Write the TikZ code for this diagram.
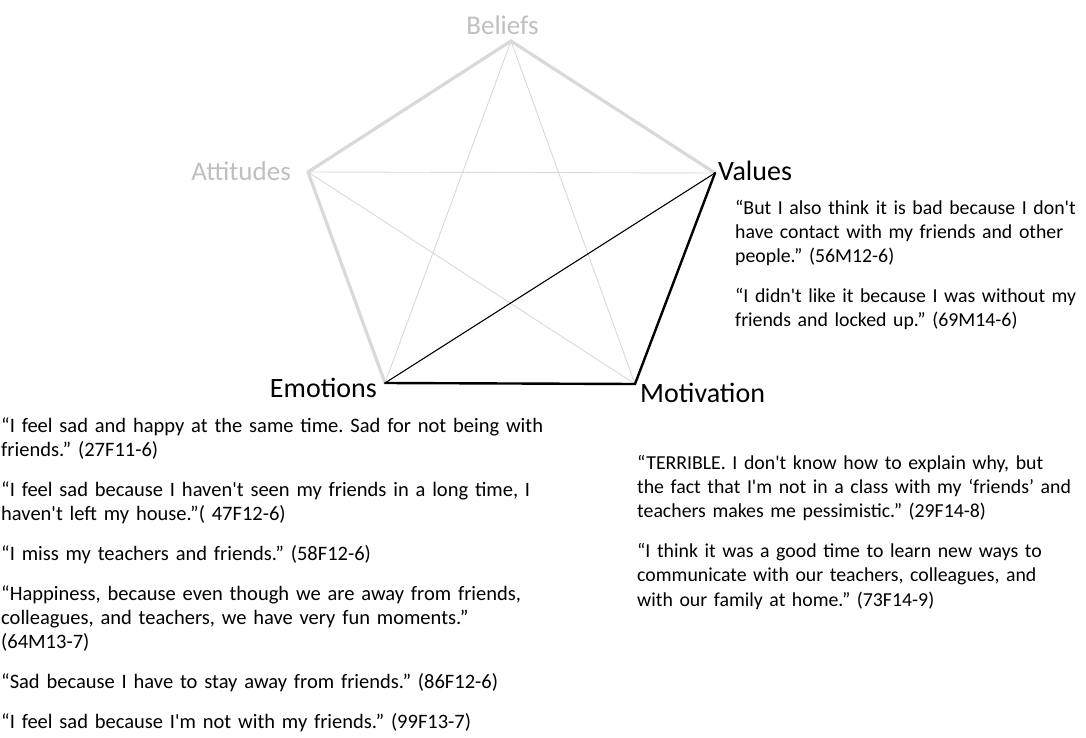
\documentclass[tikz,border=0pt]{standalone}
\usepackage{fontspec}
\setmainfont{Carlito}[Ligatures=TeXOff]
\frenchspacing
\definecolor{edgegray}{HTML}{D9D9D9}
\definecolor{labelgray}{HTML}{BFBFBF}
\tikzset{
  rimgray/.style={draw=edgegray, line width=3.2pt, line cap=round},
  rimblack/.style={draw=black, line width=2.4pt, line cap=round},
  diaggray/.style={draw=edgegray, line width=0.9pt},
  diagblack/.style={draw=black, line width=1.1pt},
  dimlabel/.style={text=labelgray, inner sep=0pt, font=\fontsize{27}{32}\selectfont},
  keylabel/.style={text=black, inner sep=0pt, font=\fontsize{28}{32}\selectfont},
  quote/.style={text=black, inner sep=0pt, align=left, font=\fontsize{20.5}{24.3}\selectfont\frenchspacing},
  quotenarrow/.style={quote, font=\fontsize{19.8}{24.3}\selectfont\frenchspacing}
}
\begin{document}
\begin{tikzpicture}[x=1pt,y=-1pt]
\useasboundingbox (0,0) rectangle (1086,738);
\coordinate (B) at (511,41);
\coordinate (A) at (308,172);
\coordinate (V) at (715,173);
\coordinate (E) at (385,383);
\coordinate (M) at (635,384);
% diagonals
\draw[diaggray] (B) -- (E);
\draw[diaggray] (B) -- (M);
\draw[diaggray] (A) -- (V);
\draw[diaggray] (A) -- (M);
% rim
\draw[rimgray] (A) -- (B) -- (V);
\draw[rimgray] (A) -- (E);
\draw[rimblack] (E) -- (M) -- (V);
\draw[diagblack] (E) -- (V);
% labels
\node[dimlabel, anchor=base] (lb) at (502.5,35) {Beliefs};
\node[dimlabel, anchor=base east] (la) at (291,181) {Attitudes};
\node[keylabel, anchor=base west] (lv) at (718,181) {Values};
\node[keylabel, anchor=base east] (le) at (377,397) {Emotions};
\node[keylabel, anchor=base west] (lm) at (640,402) {Motivation};
% quotes
\node[quotenarrow, text width=420pt, anchor=base west] (qv) at (735,214) {%
“But I also think it is bad because I don't\\
have contact with my friends and other\\
people.” (56M12-6)\\[15.5pt]
“I didn't like it because I was without my\\
friends and locked up.” (69M14-6)};
\node[quotenarrow, text width=500pt, anchor=base west] (qm) at (637,469) {%
“TERRIBLE. I don't know how to explain why, but\\
the fact that I'm not in a class with my ‘friends’ and\\
teachers makes me pessimistic.” (29F14-8)\\[15.5pt]
“I think it was a good time to learn new ways to\\
communicate with our teachers, colleagues, and\\
with our family at home.” (73F14-9)};
\node[quote, text width=650pt, anchor=base west] (qe) at (1,432) {%
“I feel sad and happy at the same time. Sad for not being with\\
friends.” (27F11-6)\\[15.5pt]
“I feel sad because I haven't seen my friends in a long time, I\\
haven't left my house.”( 47F12-6)\\[15.5pt]
“I miss my teachers and friends.” (58F12-6)\\[15.5pt]
“Happiness, because even though we are away from friends,\\
colleagues, and teachers, we have very fun moments.”\\
(64M13-7)\\[15.5pt]
“Sad because I have to stay away from friends.” (86F12-6)\\[15.5pt]
“I feel sad because I'm not with my friends.” (99F13-7)};
\end{tikzpicture}
\end{document}
